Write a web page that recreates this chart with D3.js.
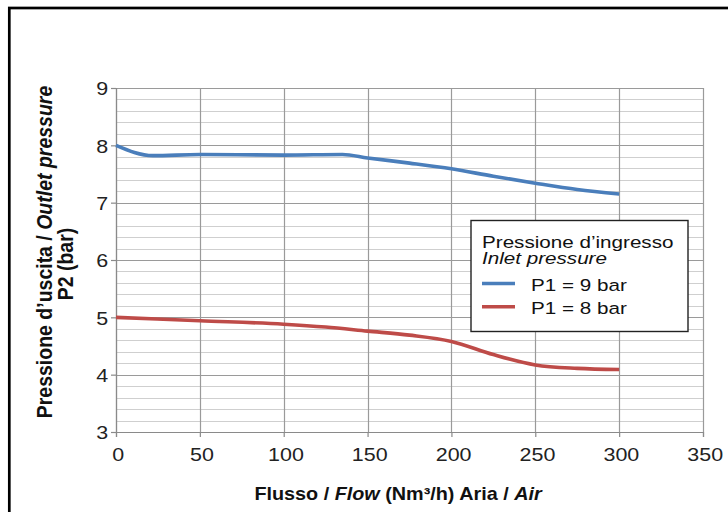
<!DOCTYPE html>
<html lang="it">
<head>
<meta charset="utf-8">
<style>
html, body {
    margin: 0;
    padding: 0;
    background: #fff;
}
svg {
    display: block;
    font-family: "Liberation Sans", Arial, sans-serif;
}
</style>
</head>
<body>
<div id="stage"></div>

<script src="https://unpkg.com/d3@7/dist/d3.min.js"></script>
<script>

// flow (Nm3/h) vs outlet pressure P2 (bar)
var flowTicks = [0, 50, 100, 150, 200, 250, 300, 350];
var pressureTicks = [3, 4, 5, 6, 7, 8, 9];

var flow9 = [0, 22, 50, 100, 135, 150, 175, 200, 225, 250, 275, 300];
var p2_9  = [8.0, 7.82, 7.84, 7.83, 7.84, 7.78, 7.69, 7.59, 7.46, 7.34, 7.23, 7.15];

var flow8 = [0, 50, 100, 125, 150, 175, 200, 225, 250, 275, 300];
var p2_8  = [5.0, 4.94, 4.88, 4.83, 4.76, 4.69, 4.58, 4.35, 4.17, 4.11, 4.09];

var seriesNames = ["P1 = 9 bar", "P1 = 8 bar"];
var seriesColors = ["#4a7ebb", "#be4b48"];

var W = 728, H = 512;
var plot = {left: 116, right: 703, top: 88, bottom: 432};

var svg = d3.select("#stage")
    .append("svg")
    .attr("width", W)
    .attr("height", H);

// outer frame
svg.append("rect")
    .attr("x", 9.3)
    .attr("y", 8)
    .attr("width", 900)
    .attr("height", 700)
    .attr("fill", "none")
    .attr("stroke", "#000")
    .attr("stroke-width", 2.7);

var x = d3.scaleLinear().domain([0, 350]).range([plot.left, plot.right]);
var y = d3.scaleLinear().domain([3, 9]).range([plot.bottom, plot.top]);

// minor horizontal grid (every 0.2 bar)
var minor = d3.range(3, 9.001, 0.2).filter(function(v){ return Math.abs(v - Math.round(v)) > 0.01; });
svg.append("g")
    .selectAll("line")
    .data(minor)
    .enter()
    .append("line")
    .attr("x1", plot.left)
    .attr("x2", plot.right)
    .attr("y1", function(d){ return Math.round(y(d)) + 0.5; })
    .attr("y2", function(d){ return Math.round(y(d)) + 0.5; })
    .attr("stroke", "#cfcfcf")
    .attr("stroke-width", 1.2);

// major horizontal grid
svg.append("g")
    .selectAll("line")
    .data(pressureTicks)
    .enter()
    .append("line")
    .attr("x1", plot.left)
    .attr("x2", plot.right)
    .attr("y1", function(d){ return Math.round(y(d)) + 0.5; })
    .attr("y2", function(d){ return Math.round(y(d)) + 0.5; })
    .attr("stroke", "#9a9a9a")
    .attr("stroke-width", 1.2);

// vertical grid
svg.append("g")
    .selectAll("line")
    .data(flowTicks)
    .enter()
    .append("line")
    .attr("x1", function(d){ return Math.round(x(d)) + 0.5; })
    .attr("x2", function(d){ return Math.round(x(d)) + 0.5; })
    .attr("y1", plot.top)
    .attr("y2", plot.bottom)
    .attr("stroke", "#9a9a9a")
    .attr("stroke-width", 1.2);

// axes
var xAxis = d3.axisBottom(x).tickValues(flowTicks).tickSize(5).tickFormat(d3.format("d"));
var yAxis = d3.axisLeft(y).tickValues(pressureTicks).tickSize(5).tickFormat(d3.format("d"));

var gx = svg.append("g")
    .attr("transform", "translate(0," + plot.bottom + ")")
    .call(xAxis);
var gy = svg.append("g")
    .attr("transform", "translate(" + plot.left + ",0)")
    .call(yAxis);

[gx, gy].forEach(function(g){
    g.select(".domain").attr("stroke", "#8a8a8a").attr("stroke-width", 1.2);
    g.selectAll(".tick line").attr("stroke", "#8a8a8a").attr("stroke-width", 1.2);
    g.selectAll(".tick text")
        .attr("fill", "#222")
        .style("font-size", "19px")
        .style("font-family", "'Liberation Sans', Arial, sans-serif");
});
gx.selectAll(".tick text")
    .attr("x", 1.5)
    .attr("y", 29)
    .attr("dy", 0)
    .attr("transform", "scale(1.13,1)");
gy.selectAll(".tick text")
    .attr("x", -7)
    .attr("dy", "0.36em")
    .attr("transform", "scale(1.13,1)");

// curves
var line = d3.line()
    .x(function(d){ return x(d[0]); })
    .y(function(d){ return y(d[1]); })
    .curve(d3.curveMonotoneX);

var series = [
    d3.zip(flow9, p2_9),
    d3.zip(flow8, p2_8)
];

svg.append("g")
    .selectAll("path")
    .data(series)
    .enter()
    .append("path")
    .attr("d", line)
    .attr("fill", "none")
    .attr("stroke", function(d, i){ return seriesColors[i]; })
    .attr("stroke-width", 3.6)
    .attr("stroke-linejoin", "round");

// y axis title
var yt = svg.append("text")
    .attr("transform", "translate(52,252) rotate(-90) scale(1,1.15)")
    .attr("text-anchor", "middle")
    .attr("fill", "#111")
    .style("font-weight", "bold")
    .style("font-size", "19.5px");
yt.append("tspan").text("Pressione d\u2019uscita / ");
yt.append("tspan").style("font-style", "italic").text("Outlet pressure");

svg.append("text")
    .attr("transform", "translate(73,264) rotate(-90) scale(1,1.15)")
    .attr("text-anchor", "middle")
    .attr("fill", "#111")
    .style("font-weight", "bold")
    .style("font-size", "19.5px")
    .text("P2 (bar)");

// x axis title
var xt = svg.append("text")
    .attr("transform", "translate(398,500) scale(1.1,1)")
    .attr("text-anchor", "middle")
    .attr("fill", "#111")
    .style("font-weight", "bold")
    .style("font-size", "18px");
xt.append("tspan").text("Flusso / ");
xt.append("tspan").style("font-style", "italic").text("Flow");
xt.append("tspan").text(" (Nm\u00b3/h) Aria / ");
xt.append("tspan").style("font-style", "italic").text("Air");

// legend
var lg = svg.append("g");
lg.append("rect")
    .attr("x", 471)
    .attr("y", 220.5)
    .attr("width", 217)
    .attr("height", 111)
    .attr("fill", "#fff")
    .attr("stroke", "#222")
    .attr("stroke-width", 1.4);

lg.append("text")
    .attr("transform", "translate(482,248) scale(1.2,1)")
    .attr("fill", "#111")
    .style("font-size", "17.2px")
    .text("Pressione d\u2019ingresso");
lg.append("text")
    .attr("transform", "translate(482,264) scale(1.2,1)")
    .attr("fill", "#111")
    .style("font-size", "17.2px")
    .style("font-style", "italic")
    .text("Inlet pressure");

var items = lg.selectAll(".item")
    .data(seriesNames)
    .enter()
    .append("g")
    .attr("class", "item")
    .attr("transform", function(d, i){ return "translate(0," + (283.5 + i * 23.3) + ")"; });

items.append("line")
    .attr("x1", 482)
    .attr("x2", 515)
    .attr("stroke", function(d, i){ return seriesColors[i]; })
    .attr("stroke-width", 3.6);

items.append("text")
    .attr("transform", "translate(531,7.5) scale(1.2,1)")
    .attr("fill", "#111")
    .style("font-size", "17.2px")
    .text(function(d){ return d; });

</script>
</body>
</html>
